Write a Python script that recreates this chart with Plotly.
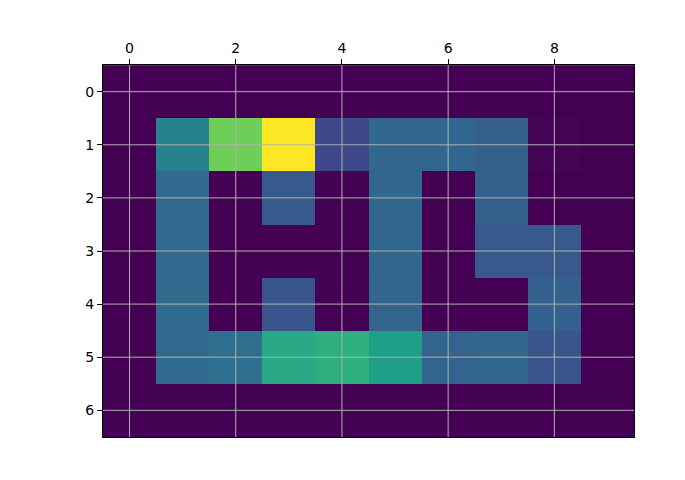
import plotly.graph_objects as go

rows = [0, 1, 2, 3, 4, 5, 6]
cols = [0, 1, 2, 3, 4, 5, 6, 7, 8, 9]
values = [
    [0, 0, 0, 0, 0, 0, 0, 0, 0, 0],
    [0, 0.45, 0.78, 1.0, 0.22, 0.33, 0.33, 0.30, 0.01, 0],
    [0, 0.34, 0, 0.28, 0, 0.33, 0, 0.30, 0, 0],
    [0, 0.34, 0, 0, 0, 0.33, 0, 0.28, 0.28, 0],
    [0, 0.34, 0, 0.27, 0, 0.32, 0, 0, 0.31, 0],
    [0, 0.34, 0.36, 0.60, 0.63, 0.56, 0.32, 0.33, 0.27, 0],
    [0, 0, 0, 0, 0, 0, 0, 0, 0, 0],
]
x_ticks = [0, 2, 4, 6, 8]
y_ticks = [0, 1, 2, 3, 4, 5, 6]

fig = go.Figure(go.Heatmap(
    z=values, x=cols, y=rows, colorscale="Viridis", showscale=False,
    zmin=0, zmax=1, hoverinfo="skip",
))

grid = dict(type="line", layer="above", line=dict(color="#b0b0b0", width=1))
shapes = []
for t in x_ticks:
    shapes.append(dict(grid, xref="x", yref="paper", x0=t, x1=t, y0=0, y1=1))
for t in y_ticks:
    shapes.append(dict(grid, xref="paper", yref="y", x0=0, x1=1, y0=t, y1=t))

axis_common = dict(
    showgrid=False, zeroline=False, showline=True, linecolor="black", linewidth=1,
    mirror=True, ticks="outside", ticklen=5, tickwidth=1, tickcolor="black",
    tickfont=dict(family="DejaVu Sans", size=14, color="black"),
    automargin=False,
)

fig.update_layout(
    width=685, height=480,
    margin=dict(l=95, r=59, t=57, b=51),
    paper_bgcolor="white", plot_bgcolor="white",
    shapes=shapes,
    xaxis=dict(axis_common, side="top", range=[-0.5, 9.5], tickvals=x_ticks,
               constrain="domain"),
    yaxis=dict(axis_common, range=[6.5, -0.5], tickvals=y_ticks,
               scaleanchor="x", scaleratio=1),
)

fig.write_html("out.html")
